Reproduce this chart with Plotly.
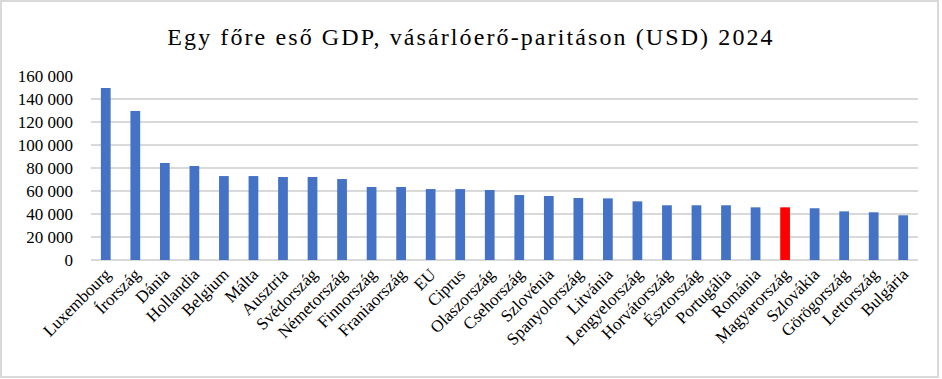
import plotly.graph_objects as go

countries = ["Luxembourg", "Írország", "Dánia", "Hollandia", "Belgium", "Málta", "Ausztria",
             "Svédország", "Németország", "Finnország", "Franiaország", "EU", "Ciprus",
             "Olaszország", "Csehország", "Szlovénia", "Spanyolország", "Litvánia",
             "Lengyelország", "Horvátország", "Észtország", "Portugália", "Románia",
             "Magyarország", "Szlovákia", "Görögország", "Lettország", "Bulgária"]
gdp_ppp = [149600, 129600, 84300, 81700, 73000, 73000, 72200,
           72200, 70400, 63500, 63500, 61700, 61700,
           60900, 56500, 55700, 53900, 53600,
           51000, 47600, 47600, 47600, 45800,
           45800, 45000, 42300, 41500, 38900]
highlight = "Magyarország"
title_text = "Egy főre eső GDP, vásárlóerő-paritáson (USD) 2024"
y_ticks = [0, 20000, 40000, 60000, 80000, 100000, 120000, 140000, 160000]

SERIF = "Times New Roman, Liberation Serif, serif"
colors = ["#FF0000" if c == highlight else "#4472C4" for c in countries]

fig = go.Figure(go.Bar(x=countries, y=gdp_ppp, marker=dict(color=colors, line=dict(width=0))))

W, H = 942, 379
ml, mr, mt, mb = 91, 24, 76, 119

fig.update_layout(
    width=W, height=H,
    margin=dict(l=ml, r=mr, t=mt, b=mb, autoexpand=False),
    paper_bgcolor="white", plot_bgcolor="white",
    separators=", ",
    bargap=0.67,
    showlegend=False,
    title=dict(text=title_text, x=0.5, xanchor="center", xref="container",
               y=1 - 37 / H, yref="container", yanchor="middle", automargin=False,
               font=dict(family=SERIF, size=24, color="#000000")),
    font=dict(family=SERIF, size=17, color="#000000"),
    xaxis=dict(tickangle=-45, showgrid=False, showline=False, ticks="", automargin=False,
               tickfont=dict(family=SERIF, size=17, color="#000000")),
    yaxis=dict(range=[0, 160000], tickvals=y_ticks, tickformat=",d", automargin=False,
               showgrid=True, gridcolor="#D9D9D9", gridwidth=1.5,
               zeroline=True, zerolinecolor="#D9D9D9", zerolinewidth=1.5,
               showline=False, ticks="", ticklabelstandoff=17,
               tickfont=dict(family=SERIF, size=17, color="#000000")),
)

# outer chart border
pw = W - ml - mr
ph = H - mt - mb
fig.add_shape(type="rect", xref="paper", yref="paper",
              x0=(1 - ml) / pw, x1=(938 - ml) / pw,
              y0=(H - mb - 377) / ph, y1=(H - mb - 1) / ph,
              line=dict(color="#D9D9D9", width=2), fillcolor="rgba(0,0,0,0)", layer="below")

post = """
document.body.style.margin = '0';
document.body.style.overflow = 'hidden';
var gd = document.getElementById('{plot_id}');
function widenTitle() {
  var t = gd.querySelector('.gtitle');
  if (t) { t.style.letterSpacing = '2.1px'; }
}
widenTitle();
if (gd.on) { gd.on('plotly_afterplot', widenTitle); }
"""

fig.write_html("out.html", post_script=post, config={"displayModeBar": False})
